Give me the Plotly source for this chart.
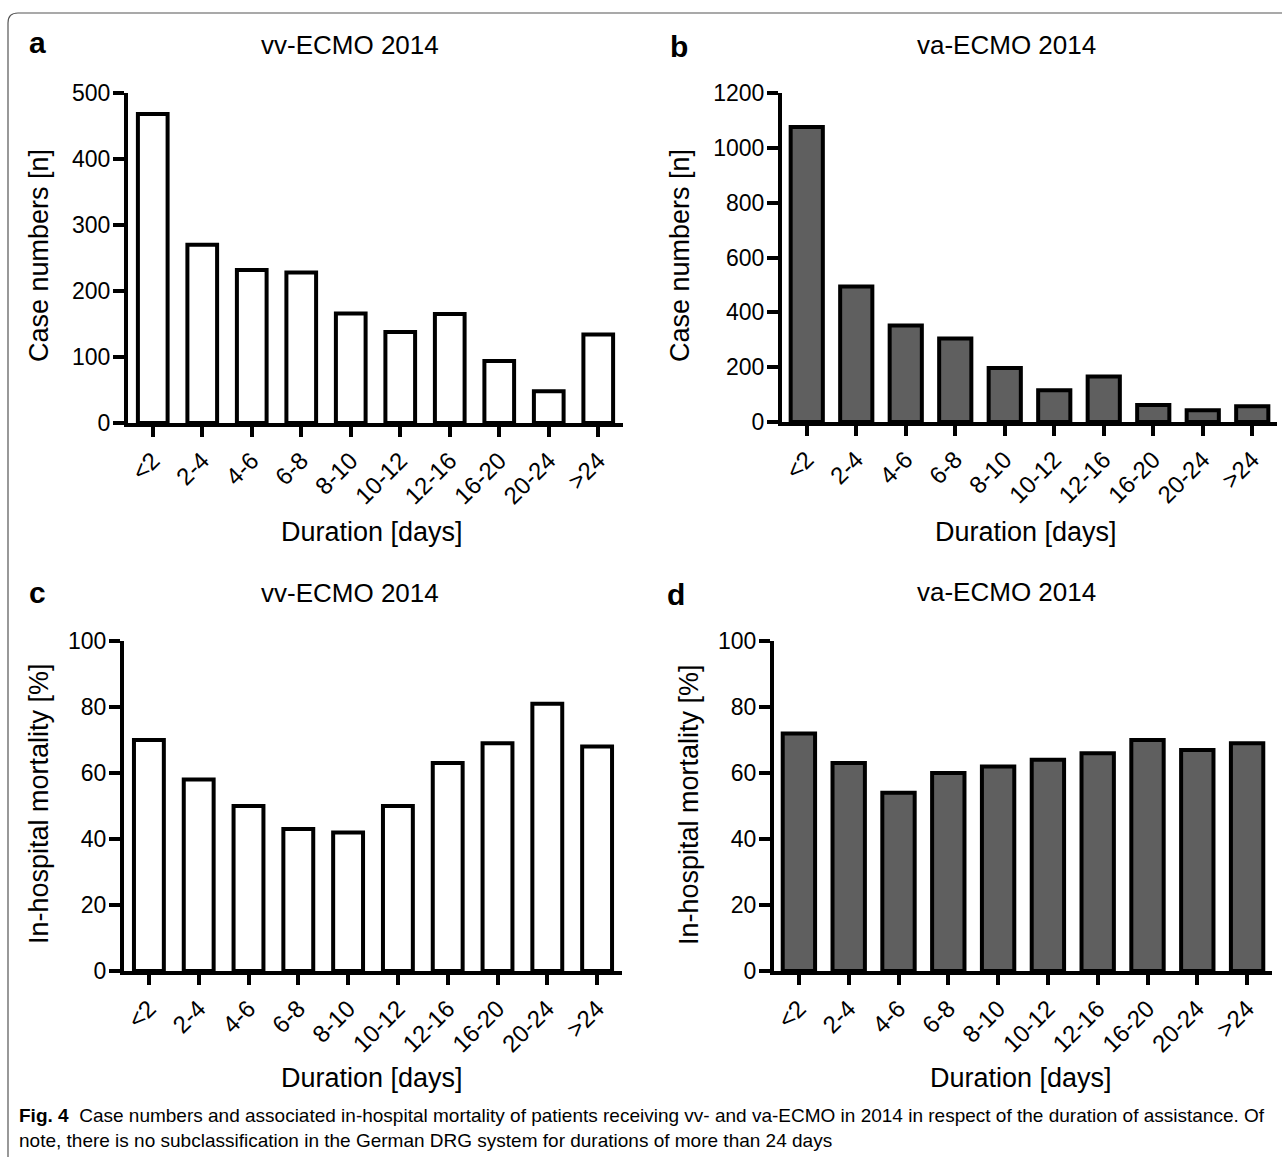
import plotly.graph_objects as go

W, H = 1282, 1157

categories = ["<2", "2-4", "4-6", "6-8", "8-10", "10-12", "12-16", "16-20", "20-24", ">24"]
vv_cases = [468, 270, 232, 228, 166, 138, 165, 94, 48, 134]
va_cases = [1076, 494, 352, 305, 197, 116, 166, 62, 43, 57]
vv_mortality = [70, 58, 50, 43, 42, 50, 63, 69, 81, 68]
va_mortality = [72, 63, 54, 60, 62, 64, 66, 70, 67, 69]

case_ticks_vv = [0, 100, 200, 300, 400, 500]
case_ticks_va = [0, 200, 400, 600, 800, 1000, 1200]
mort_ticks = [0, 20, 40, 60, 80, 100]

FONT = "Liberation Sans, Arial, Helvetica, sans-serif"
WHITE = "#ffffff"
GREY = "#5f5f5f"


def px(x):
    return x / W


def py(y):
    return 1 - y / H


# panel boxes in pixels: left, right, top, bottom (plot area)
panels = [
    dict(data=vv_cases, fill=WHITE, width=0.6, box=(128, 623, 93, 423), ymax=500, ticks=case_ticks_vv),
    dict(data=va_cases, fill=GREY, width=0.65, box=(782, 1277, 93, 422), ymax=1200, ticks=case_ticks_va),
    dict(data=vv_mortality, fill=WHITE, width=0.6, box=(124, 622, 641, 971), ymax=100, ticks=mort_ticks),
    dict(data=va_mortality, fill=GREY, width=0.65, box=(774, 1272, 641, 971), ymax=100, ticks=mort_ticks),
]

fig = go.Figure()
layout = {}
for i, p in enumerate(panels, start=1):
    xa = "x" if i == 1 else f"x{i}"
    ya = "y" if i == 1 else f"y{i}"
    fig.add_trace(go.Bar(
        x=categories, y=p["data"], width=p["width"],
        marker=dict(color=p["fill"], line=dict(color="black", width=4)),
        xaxis=xa, yaxis=ya, showlegend=False, hoverinfo="x+y",
    ))
    l, r, t, b = p["box"]
    xkey = "xaxis" if i == 1 else f"xaxis{i}"
    ykey = "yaxis" if i == 1 else f"yaxis{i}"
    layout[xkey] = dict(
        domain=[px(l), px(r)], anchor=ya, type="category", range=[-0.5, 9.5],
        showline=True, linecolor="black", linewidth=4, ticks="outside", ticklen=10,
        tickwidth=4, tickcolor="black", tickangle=-45, automargin=False,
        tickfont=dict(family=FONT, size=24, color="black"),
        showgrid=False, zeroline=False, fixedrange=True,
    )
    layout[ykey] = dict(
        domain=[py(b), py(t)], anchor=xa, range=[0, p["ymax"]], tickvals=p["ticks"],
        showline=True, linecolor="black", linewidth=4, ticks="outside", ticklen=11,
        tickwidth=4, tickcolor="black", ticklabelstandoff=-2, automargin=False,
        tickfont=dict(family=FONT, size=23, color="black"),
        showgrid=False, zeroline=False, fixedrange=True,
    )

fig.update_layout(**layout)

annotations = []


def add_text(x, y, text, size, bold=False, angle=0, xanchor="center", family=FONT):
    annotations.append(dict(
        x=px(x), y=py(y), xref="paper", yref="paper", text=f"<b>{text}</b>" if bold else text,
        showarrow=False, xanchor=xanchor, yanchor="middle", textangle=angle,
        font=dict(family=family, size=size, color="black"),
    ))


# panel letters
add_text(37, 42, "a", 30, bold=True)
add_text(679, 46, "b", 30, bold=True)
add_text(37, 592, "c", 30, bold=True)
add_text(676, 594, "d", 30, bold=True)

# titles
add_text(350, 45, "vv-ECMO 2014", 26)
add_text(1006, 45, "va-ECMO 2014", 26)
add_text(350, 593, "vv-ECMO 2014", 26)
add_text(1006, 592, "va-ECMO 2014", 26)

# axis titles
add_text(39, 256, "Case numbers [n]", 27, angle=-90)
add_text(680, 256, "Case numbers [n]", 27, angle=-90)
add_text(39, 804, "In-hospital mortality [%]", 27, angle=-90)
add_text(689, 804, "In-hospital mortality [%]", 27, angle=-90)
add_text(372, 532, "Duration [days]", 27)
add_text(1026, 532, "Duration [days]", 27)
add_text(372, 1078, "Duration [days]", 27)
add_text(1021, 1078, "Duration [days]", 27)

# caption
CAP_FONT = "Liberation Sans, Arial, sans-serif"
add_text(17, 1115, "<b>Fig. 4</b>\u00a0\u00a0Case numbers and associated in-hospital mortality of patients receiving vv- and va-ECMO in 2014 in respect of the duration of assistance. Of",
         19, xanchor="left", family=CAP_FONT)
add_text(17, 1140, "note, there is no subclassification in the German DRG system for durations of more than 24 days",
         19, xanchor="left", family=CAP_FONT)

# rounded frame border
r = 10
x0, y0 = px(8), py(13)
path = (f"M {x0},{py(1160)} L {x0},{py(13 + r)} "
        f"Q {x0},{y0} {px(8 + r)},{y0} L {px(1290)},{y0}")
shapes = [dict(type="path", xref="paper", yref="paper", path=path,
               line=dict(color="#555555", width=1.2))]

fig.update_layout(
    width=W, height=H, margin=dict(l=0, r=0, t=0, b=0, pad=0, autoexpand=False),
    paper_bgcolor="white", plot_bgcolor="white",
    annotations=annotations, shapes=shapes, showlegend=False,
    font=dict(family=FONT, color="black"),
)

fig.write_html("out.html", post_script="document.body.style.margin='0px';",
               config={"displayModeBar": False})
